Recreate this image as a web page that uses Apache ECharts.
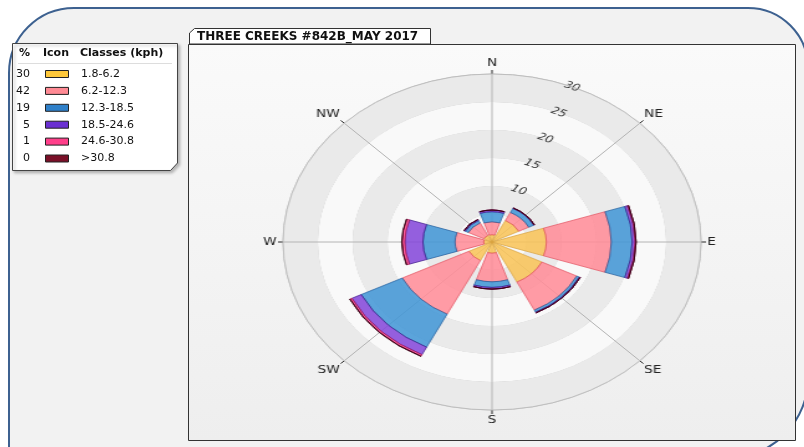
<!DOCTYPE html>
<html>
<head>
<meta charset="utf-8">
<script src="https://cdn.jsdelivr.net/npm/echarts@6/dist/echarts.min.js"></script>
<style>
  html, body { margin: 0; padding: 0; background: #fff; overflow: hidden; }
  #frame { position: absolute; left: 0; top: 0; width: 804px; height: 447px; }
  /* the original rose is stretched sideways, so the polar layer is scaled */
  #rose { position: absolute; left: 0; top: 0; width: 804px; height: 447px;
          transform-origin: 492px 242px; transform: scaleX(1.244); }
</style>
</head>
<body>
<div id="frame"></div>
<div id="rose"></div>
<script>
var directions = ['N', 'NE', 'E', 'SE', 'S', 'SW', 'W', 'NW'];
var classes = ['1.8-6.2', '6.2-12.3', '12.3-18.5', '18.5-24.6', '24.6-30.8', '>30.8'];
var classPercent = [30, 42, 19, 5, 1, 0];
var ringLabels = [10, 15, 20, 25, 30];

// % frequency per direction, N..NW
var speed1 = [1.3, 4.3, 7.8, 8.0, 2.0, 3.7, 1.2, 1.3];
var speed2 = [2.3, 1.6, 9.3, 5.6, 5.1, 10.7, 4.1, 2.5];
var speed3 = [1.8, 0.8, 3.0, 0.4, 1.0, 6.6, 4.6, 0.5];
var speed4 = [0.3, 0.1, 0.4, 0.15, 0.3, 1.5, 2.6, 0.2];
var speed5 = [0, 0, 0.15, 0, 0, 0.3, 0.4, 0];
var speed6 = [0, 0, 0, 0, 0, 0.05, 0.05, 0];

var fills = ['#f8c45a', '#ff8d98', '#4497d6', '#8549d9', '#ff4b92', '#6b0b26'];
var edges = ['#d9a23e', '#e2505f', '#1f5c9c', '#3d1a88', '#b3104f', '#2a0010'];
var iconFills = ['#ffc83a', '#ff8a94', '#2f80c9', '#6a30d2', '#ff3f8a', '#7a1028'];

var font = '"DejaVu Sans", Verdana, sans-serif';

// ---------- frame, title tab and legend ----------
var frame = echarts.init(document.getElementById('frame'));
var g = [
  { type: 'rect', shape: { x: 9, y: 8, width: 799, height: 450, r: [65, 60, 80, 0] },
    style: { fill: '#f2f2f2', stroke: '#3d6190', lineWidth: 2 } },
  { type: 'polygon', shape: { points: [[189.5, 44], [189.5, 33], [194.5, 28.5], [430.5, 28.5], [430.5, 44]] },
    style: { fill: '#fff', stroke: '#333', lineWidth: 1 } },
  { type: 'text', x: 197, y: 36.5,
    style: { text: 'THREE CREEKS #842B_MAY 2017', font: 'bold 12px ' + font, fill: '#111', verticalAlign: 'middle' } },
  { type: 'rect', shape: { x: 188.5, y: 44.5, width: 607, height: 396 },
    style: { stroke: '#333', lineWidth: 1,
      fill: new echarts.graphic.LinearGradient(0, 0, 0, 1, [
        { offset: 0, color: '#fafafa' }, { offset: 1, color: '#eeeeee' }]) } },
  { type: 'polygon', shape: { points: [[12.5, 43.5], [177.5, 43.5], [177.5, 163], [170.5, 170.5], [12.5, 170.5]] },
    style: { fill: '#fff', stroke: '#444', lineWidth: 1, shadowBlur: 3, shadowOffsetX: 2, shadowOffsetY: 2, shadowColor: 'rgba(0,0,0,0.25)' } },
  { type: 'text', x: 30, y: 53, style: { text: '%', font: 'bold 11px ' + font, fill: '#111', align: 'right', verticalAlign: 'middle' } },
  { type: 'text', x: 43, y: 53, style: { text: 'Icon', font: 'bold 11px ' + font, fill: '#111', verticalAlign: 'middle' } },
  { type: 'text', x: 80, y: 53, style: { text: 'Classes (kph)', font: 'bold 11px ' + font, fill: '#111', verticalAlign: 'middle' } },
  { type: 'line', shape: { x1: 18, y1: 63.5, x2: 172, y2: 63.5 }, style: { stroke: '#ddd', lineWidth: 1 } }
];
for (var i = 0; i < classes.length; i++) {
  var y = 74 + i * 16.9;
  g.push({ type: 'text', x: 30, y: y, style: { text: String(classPercent[i]), font: '11px ' + font, fill: '#111', align: 'right', verticalAlign: 'middle' } });
  g.push({ type: 'rect', shape: { x: 45.5, y: y - 3.5, width: 23, height: 7 },
    style: { fill: iconFills[i], stroke: '#222', lineWidth: 1 } });
  g.push({ type: 'text', x: 81, y: y, style: { text: classes[i], font: '11px ' + font, fill: '#111', verticalAlign: 'middle' } });
}
frame.setOption({ animation: false, graphic: g });

// ---------- wind rose ----------
var rose = echarts.init(document.getElementById('rose'));
// category axis starts at NE so the radius labels sit between N and NE
function fromNE(a) { return a.slice(1).concat(a.slice(0, 1)); }
var speeds = [speed1, speed2, speed3, speed4, speed5, speed6];

rose.setOption({
  animation: false,
  polar: [
    { center: [492, 242], radius: 168 },
    { center: [492, 242], radius: 168 }
  ],
  angleAxis: [
    { polarIndex: 0, type: 'category', data: fromNE(directions), startAngle: 67.5,
      axisLine: { show: false }, axisTick: { show: false }, axisLabel: { show: false }, splitLine: { show: false } },
    { polarIndex: 1, type: 'value', min: 0, max: 360, interval: 45, startAngle: 90, z: 1,
      axisLine: { lineStyle: { color: '#bdbdbd' } },
      axisTick: { length: 4, lineStyle: { color: '#222' } },
      axisLabel: { margin: 5, color: '#222', fontSize: 11, fontFamily: font,
        formatter: function (v) { return v >= 360 ? '' : directions[v / 45]; } },
      splitLine: { lineStyle: { color: '#b4b4b4' } } }
  ],
  radiusAxis: [
    { polarIndex: 0, min: 0, max: 30, interval: 5,
      axisLine: { show: false }, axisTick: { show: false },
      axisLabel: { rotate: -22.5, margin: 0, align: 'center', verticalAlign: 'middle',
        fontStyle: 'italic', fontSize: 10, color: '#333', fontFamily: font,
        formatter: function (v) { return ringLabels.indexOf(v) >= 0 ? String(v) : ''; } },
      splitLine: { lineStyle: { color: '#c4c4c4' } },
      splitArea: { show: true, areaStyle: { color: ['#f9f9f9', '#eaeaea'] } } },
    { polarIndex: 1, min: 0, max: 30, show: false }
  ],
  series: speeds.map(function (vals, i) {
    return {
      type: 'bar', coordinateSystem: 'polar', polarIndex: 0, stack: 'speed',
      name: classes[i], data: fromNE(vals), barCategoryGap: '18%',
      itemStyle: { color: fills[i], borderColor: edges[i], borderWidth: 0.8, opacity: 0.88 }
    };
  })
});
</script>
</body>
</html>
